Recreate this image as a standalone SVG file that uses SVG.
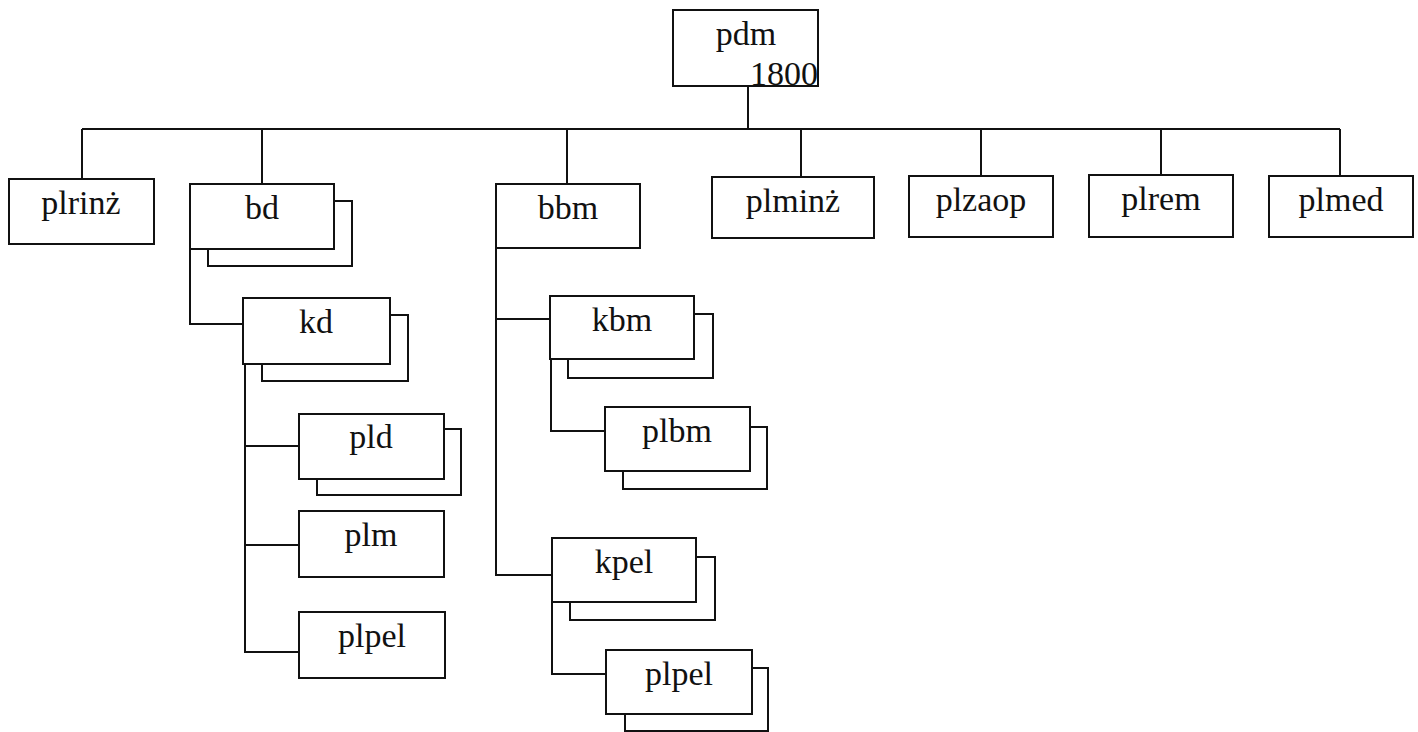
<svg xmlns="http://www.w3.org/2000/svg" width="1418" height="732" viewBox="0 0 1418 732">
<style>
.b{fill:#fff;stroke:#111;stroke-width:2}
.s{fill:none;stroke:#111;stroke-width:2}
.c{fill:none;stroke:#111;stroke-width:2}
text{font-family:"Liberation Serif","Times New Roman",serif;font-size:34px;fill:#111;text-anchor:middle}
</style>
<rect width="1418" height="732" fill="#fff"/>
<g id="connectors">
<path class="c" d="M748 86V129M82 129H1340M82 129V179M262 129V184M567 129V184M801 129V177M981 129V176M1161 129V175M1340 129V176"/>
<path class="c" d="M190 249V324H243"/>
<path class="c" d="M245 364V652H299M245 446H299M245 545H299"/>
<path class="c" d="M496 248V575H552M496 319H550"/>
<path class="c" d="M551 359V431H605"/>
<path class="c" d="M552 602V674H606"/>
</g>
<g id="pdm"><rect class="b" x="673" y="10" width="145" height="76"/><text x="746" y="45">pdm</text><text x="818" y="85" style="text-anchor:end">1800</text></g>
<g id="plrinz"><rect class="b" x="9" y="179" width="145" height="65"/><text x="81" y="214">plrinż</text></g>
<g id="bd"><path class="s" d="M334 201H352V266H208V249"/><rect class="b" x="190" y="184" width="144" height="65"/><text x="262" y="219">bd</text></g>
<g id="bbm"><rect class="b" x="496" y="184" width="144" height="64"/><text x="568" y="219">bbm</text></g>
<g id="plminz"><rect class="b" x="712" y="177" width="162" height="61"/><text x="793" y="212">plminż</text></g>
<g id="plzaop"><rect class="b" x="909" y="176" width="144" height="61"/><text x="981" y="211">plzaop</text></g>
<g id="plrem"><rect class="b" x="1089" y="175" width="144" height="62"/><text x="1161" y="210">plrem</text></g>
<g id="plmed"><rect class="b" x="1269" y="176" width="144" height="61"/><text x="1341" y="211">plmed</text></g>
<g id="kd"><path class="s" d="M390 315H408V381H262V364"/><rect class="b" x="243" y="298" width="147" height="66"/><text x="316" y="333">kd</text></g>
<g id="pld"><path class="s" d="M444 429H461V495H317V479"/><rect class="b" x="299" y="414" width="145" height="65"/><text x="371" y="448">pld</text></g>
<g id="plm"><rect class="b" x="299" y="511" width="145" height="66"/><text x="371" y="546">plm</text></g>
<g id="plpel1"><rect class="b" x="299" y="612" width="146" height="66"/><text x="372" y="647">plpel</text></g>
<g id="kbm"><path class="s" d="M694 314H713V378H568V359"/><rect class="b" x="550" y="296" width="144" height="63"/><text x="622" y="331">kbm</text></g>
<g id="plbm"><path class="s" d="M750 427H767V489H623V471"/><rect class="b" x="605" y="407" width="145" height="64"/><text x="677" y="442">plbm</text></g>
<g id="kpel"><path class="s" d="M696 557H715V620H570V602"/><rect class="b" x="552" y="538" width="144" height="64"/><text x="624" y="573">kpel</text></g>
<g id="plpel2"><path class="s" d="M752 668H768V731H625V714"/><rect class="b" x="606" y="650" width="146" height="64"/><text x="679" y="685">plpel</text></g>
</svg>
